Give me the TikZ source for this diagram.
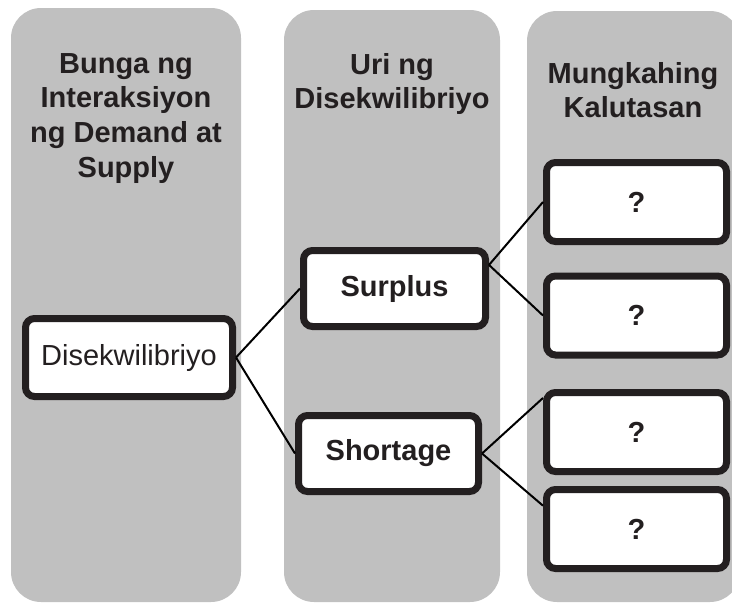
\documentclass[tikz,border=0pt]{standalone}
\usepackage{fontspec}
\setmainfont{Liberation Sans}
\setsansfont{Liberation Sans}
\usepackage{xcolor}
\usepackage{tikz}
\usetikzlibrary{shapes,positioning}
\definecolor{panelgrey}{RGB}{192,192,192}
\definecolor{inkdark}{RGB}{35,31,32}

\begin{document}
\begin{tikzpicture}[
    x=1pt, y=-1pt,
    panel/.style={fill=panelgrey, draw=none, rounded corners=30pt},
    head/.style={
      anchor=north,
      inner sep=0pt,
      align=center,
      text=inkdark,
      font=\fontsize{29}{34.7}\selectfont\sffamily\bfseries
    },
    box/.style args={#1/#2}{
      rectangle,
      draw=inkdark,
      fill=white,
      line width=7pt,
      rounded corners=9pt,
      minimum width=#1,
      minimum height=#2,
      inner sep=0pt,
      text=inkdark,
      align=center,
      font=\fontsize{29}{34.7}\selectfont\sffamily\bfseries
    },
    link/.style={line width=2pt, black}
  ]
    \useasboundingbox (0,0) rectangle (732,603);

    \fill[panel] (11,8) rectangle (241,602);
    \fill[panel] (284,10) rectangle (500,602);
    \fill[panel] (527,11) rectangle (740,602);

    \node[head] (bunga) at (126,53) {Bunga ng\\Interaksiyon\\ng Demand at\\Supply};
    \node[head] (uri) at (392,53) {Uri ng\\Disekwilibriyo};
    \node[head] (mungkahi) at (633,62) {Mungkahing\\Kalutasan};

    \node[box=207pt/78pt, font=\fontsize{29}{34.7}\selectfont\sffamily] (diseq) at (129,357.5) {Disekwilibriyo};
    \node[box=182pt/76pt] (surplus) at (394.5,288.5) {Surplus};
    \node[box=180pt/76pt] (shortage) at (388.5,453.5) {Shortage};

    \node[box=180pt/79pt] (sagot1) at (636.5,202) {?};
    \node[box=180pt/79pt] (sagot2) at (636.5,315.5) {?};
    \node[box=180pt/79pt] (sagot3) at (636.5,432) {?};
    \node[box=180pt/79pt] (sagot4) at (636.5,529) {?};

    \draw[link] (diseq.east) -- (surplus.west);
    \draw[link] (diseq.east) -- (shortage.west);
    \draw[link] (surplus.14) -- (sagot1.west);
    \draw[link] (surplus.14) -- (sagot2.west);
    \draw[link] (shortage.east) -- (sagot3.160);
    \draw[link] (shortage.east) -- (sagot4.166);
  \end{tikzpicture}
\end{document}
